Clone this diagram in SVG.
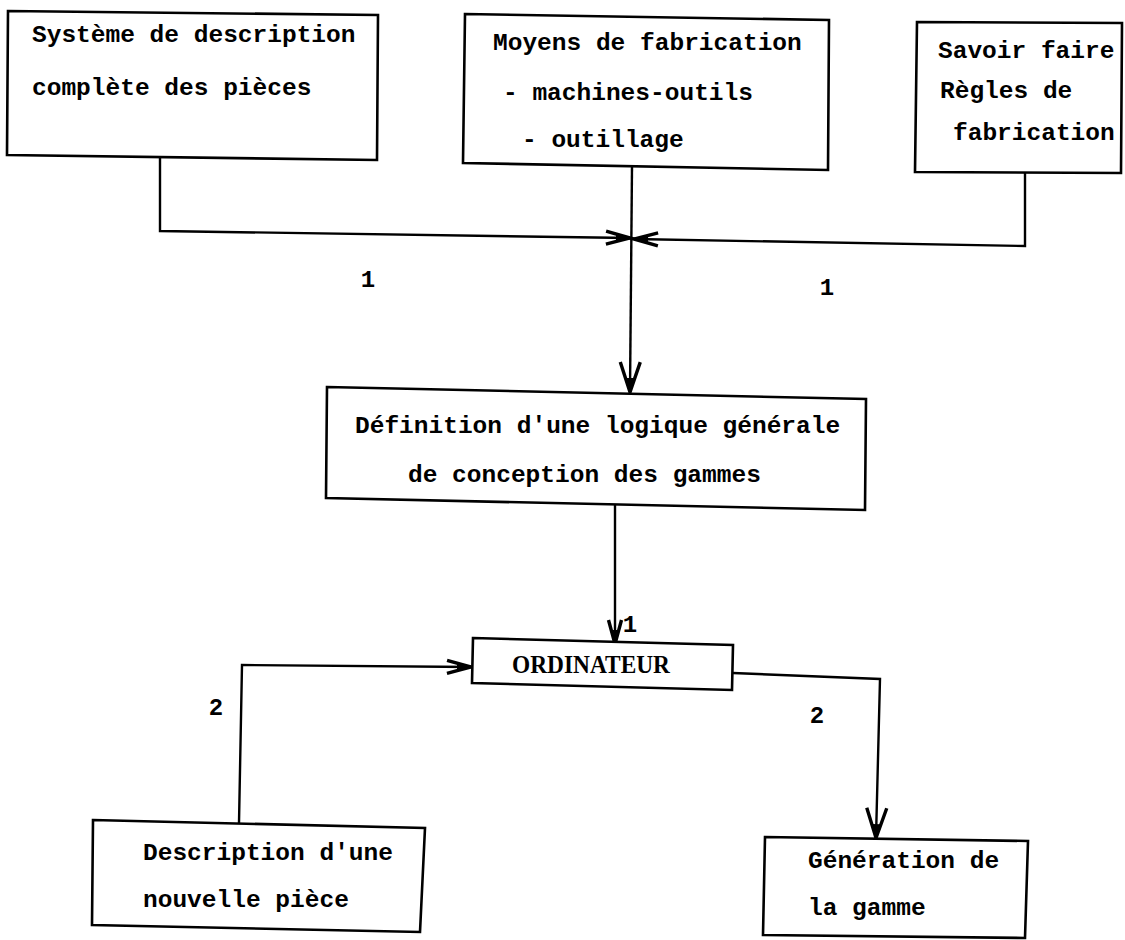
<svg xmlns="http://www.w3.org/2000/svg" width="1125" height="940" viewBox="0 0 1125 940">
<style>
.box{fill:#fff;stroke:#000;stroke-width:2.6;stroke-linejoin:miter}
.t{font-family:"Liberation Mono","DejaVu Sans Mono",monospace;font-weight:bold;font-size:24.5px;fill:#000}
.lbl{font-family:"Liberation Mono","DejaVu Sans Mono",monospace;font-weight:bold;font-size:24px;fill:#000;text-anchor:middle}
.ord{font-family:"Liberation Serif","DejaVu Serif",serif;font-weight:bold;font-size:25px;fill:#000}
.c{fill:none;stroke:#000;stroke-width:2.4;stroke-linejoin:miter}
</style>
<defs>
<marker id="aBig" markerUnits="userSpaceOnUse" viewBox="-32 -13 34 26" refX="0" refY="0" markerWidth="34" markerHeight="26" orient="auto" overflow="visible">
<path d="M-30,-10 L0,0 L-30,10" fill="none" stroke="#000" stroke-width="3.4" stroke-linejoin="miter"/>
<path d="M1,0 L-14,-5 L-14,5 Z" fill="#000"/>
</marker>
<marker id="aSmall" markerUnits="userSpaceOnUse" viewBox="-28 -9 30 18" refX="0" refY="0" markerWidth="30" markerHeight="18" orient="auto" overflow="visible">
<path d="M-24,-6.5 L0,0 L-24,6.5" fill="none" stroke="#000" stroke-width="3.4" stroke-linejoin="miter"/>
<path d="M1,0 L-14,-4 L-14,4 Z" fill="#000"/>
</marker>
</defs>

<g id="connectors">
<path class="c" d="M160,157 L160,231 L630,238" marker-end="url(#aSmall)"/>
<path class="c" d="M1025,173 L1025,246 L634,239" marker-end="url(#aSmall)"/>
<path class="c" d="M632,167 L630,392" marker-end="url(#aBig)"/>
<path class="c" d="M615,503 L615,644" marker-end="url(#aSmall)"/>
<path class="c" d="M239,823 L242,665 L471,667" marker-end="url(#aSmall)"/>
<path class="c" d="M733,673 L880,679 L876,838" marker-end="url(#aBig)"/>
</g>

<g id="labels">
<text class="lbl" x="368" y="287">1</text>
<text class="lbl" x="827" y="295">1</text>
<text class="lbl" x="630" y="632">1</text>
<text class="lbl" x="216" y="715">2</text>
<text class="lbl" x="817" y="723">2</text>
</g>

<g id="n1">
<polygon class="box" points="8,11 378,15 377,160 7,155"/>
<text class="t" x="32" y="42">Système de description</text>
<text class="t" x="32" y="95">complète des pièces</text>
</g>

<g id="n2">
<polygon class="box" points="465,14 829,20 828,170 463,163"/>
<text class="t" x="493" y="50">Moyens de fabrication</text>
<text class="t" x="503" y="100">- machines-outils</text>
<text class="t" x="522" y="147">- outillage</text>
</g>

<g id="n3">
<polygon class="box" points="917,22 1122,23 1121,173 915,172"/>
<text class="t" x="938" y="58">Savoir faire</text>
<text class="t" x="940" y="98">Règles de</text>
<text class="t" x="953" y="140">fabrication</text>
</g>

<g id="n4">
<polygon class="box" points="327,387 866,399 865,510 326,498"/>
<text class="t" x="355" y="433">Définition d'une logique générale</text>
<text class="t" x="408" y="482">de conception des gammes</text>
</g>

<g id="n5">
<polygon class="box" points="473,638 733,645 732,690 472,683"/>
<text class="ord" x="512" y="673" textLength="158" lengthAdjust="spacingAndGlyphs">ORDINATEUR</text>
</g>

<g id="n6">
<polygon class="box" points="93,820 425,828 420,932 92,925"/>
<text class="t" x="143" y="860">Description d'une</text>
<text class="t" x="143" y="907">nouvelle pièce</text>
</g>

<g id="n7">
<polygon class="box" points="765,837 1028,841 1025,938 763,935"/>
<text class="t" x="808" y="868">Génération de</text>
<text class="t" x="808" y="915">la gamme</text>
</g>
</svg>
